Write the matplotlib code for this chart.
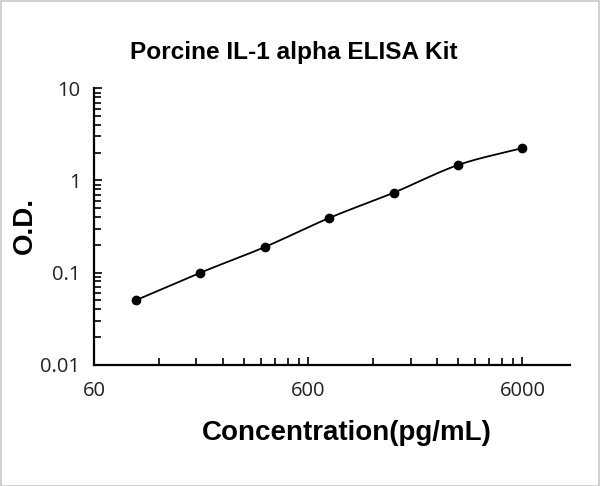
import numpy as np
import matplotlib
matplotlib.use("Agg")
import matplotlib.pyplot as plt
from matplotlib.patches import Rectangle
from matplotlib.ticker import FixedLocator, NullFormatter, LogLocator

# standard curve data
conc = [93.75, 187.5, 375, 750, 1500, 3000, 6000]
od = [0.050, 0.0995, 0.189, 0.391, 0.735, 1.47, 2.25]

x_major = [60, 600, 6000]
x_minor = [60 * k for k in range(2, 10)] + [600 * k for k in range(2, 10)]
y_major = [0.01, 0.1, 1, 10]
y_labels = ["0.01", "0.1", "1", "10"]


def smooth(xs, ys, n=30):
    # catmull-rom through the points in log-log space
    lx = np.log10(xs)
    ly = np.log10(ys)
    px = np.concatenate([[2 * lx[0] - lx[1]], lx, [2 * lx[-1] - lx[-2]]])
    py = np.concatenate([[2 * ly[0] - ly[1]], ly, [2 * ly[-1] - ly[-2]]])
    outx, outy = [], []
    t = np.linspace(0, 1, n)
    for i in range(1, len(px) - 2):
        for p, out in ((px, outx), (py, outy)):
            p0, p1, p2, p3 = p[i - 1], p[i], p[i + 1], p[i + 2]
            seg = 0.5 * ((2 * p1) + (-p0 + p2) * t
                         + (2 * p0 - 5 * p1 + 4 * p2 - p3) * t ** 2
                         + (-p0 + 3 * p1 - 3 * p2 + p3) * t ** 3)
            out.extend(seg)
    return 10 ** np.array(outx), 10 ** np.array(outy)


fig = plt.figure(figsize=(6, 4.86), dpi=100)
ax = fig.add_axes([0.157, 0.2496, 0.793, 0.5687])

sx, sy = smooth(conc, od)
ax.plot(sx, sy, color="black", lw=1.3)
ax.plot(conc, od, "o", color="black", markersize=6)

ax.set_xscale("log")
ax.set_yscale("log")
ax.set_xlim(60, 10000)
ax.set_ylim(0.01, 10)

ax.xaxis.set_major_locator(FixedLocator(x_major))
ax.xaxis.set_minor_locator(FixedLocator(x_minor))
ax.set_xticklabels([str(v) for v in x_major])
ax.xaxis.set_minor_formatter(NullFormatter())
ax.yaxis.set_major_locator(FixedLocator(y_major))
ax.yaxis.set_minor_locator(LogLocator(base=10, subs=np.arange(2, 10)))
ax.set_yticklabels(y_labels)
ax.yaxis.set_minor_formatter(NullFormatter())

ax.spines['right'].set_color('none')
ax.spines['top'].set_color('none')
ax.spines['left'].set_linewidth(1.6)
ax.spines['bottom'].set_linewidth(1.6)
ax.tick_params(which="both", direction="in", width=1.2, colors="black")
ax.tick_params(which="major", length=6)
ax.tick_params(which="minor", length=5)
ax.tick_params(axis="x", which="major", pad=12)
ax.tick_params(axis="y", which="major", pad=10)
for lab in ax.get_xticklabels() + ax.get_yticklabels():
    lab.set_fontfamily("Open Sans")
    lab.set_fontsize(14.5)
    lab.set_color("#222222")

fig.text(0.49, 0.893, "Porcine IL-1 alpha ELISA Kit", ha="center", va="center",
         fontfamily="Liberation Sans", fontweight="bold", fontsize=17.6)
fig.text(347 / 600, 1 - 433 / 486, "Concentration(pg/mL)", ha="center", va="center",
         fontfamily="Liberation Sans", fontweight="bold", fontsize=20)
fig.text(25 / 600, 1 - 226 / 486, "O.D.", ha="center", va="center", rotation=90,
         fontfamily="Liberation Sans", fontweight="bold", fontsize=20)

# thin grey frame round the picture
fig.patches.append(Rectangle((0.001, 0.001), 0.997, 0.997, transform=fig.transFigure,
                             fill=False, edgecolor="#c8c8c8", lw=1.2))

fig.savefig("out.png", dpi=100)
